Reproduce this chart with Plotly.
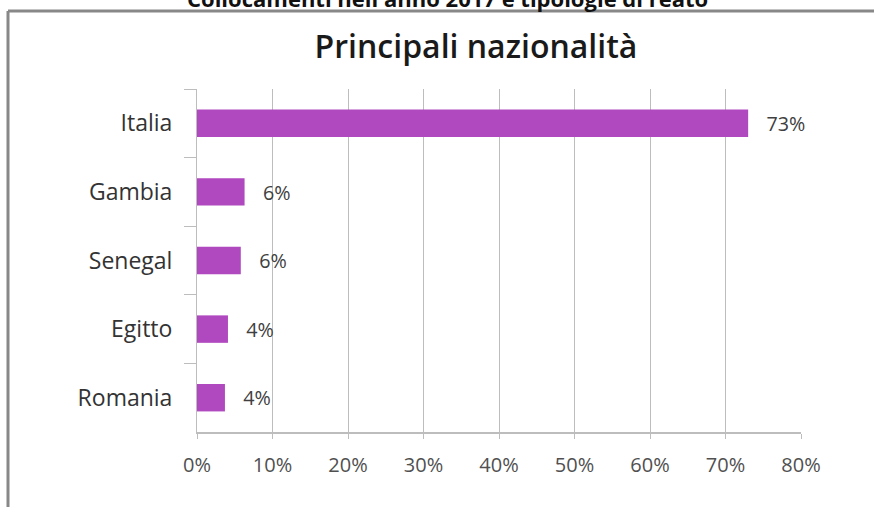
import plotly.graph_objects as go

countries = ["Italia", "Gambia", "Senegal", "Egitto", "Romania"]
shares = [73.0, 6.3, 5.8, 4.1, 3.7]
labels = ["73%", "6%", "6%", "4%", "4%"]
x_ticks = [0, 10, 20, 30, 40, 50, 60, 70, 80]
x_tick_text = ["0%", "10%", "20%", "30%", "40%", "50%", "60%", "70%", "80%"]

W, H = 874, 507
L, R, T, B = 197, 73, 89, 75
pw, ph = W - L - R, H - T - B

def px(x):
    return (x - L) / pw

def py(y):
    return (H - B - y) / ph

FONT = "Open Sans"

fig = go.Figure()
fig.add_trace(go.Bar(
    x=shares, y=countries, orientation="h",
    marker=dict(color="#B048BF", line=dict(width=0)),
    text=labels, texttemplate="   %{text}", textposition="outside", cliponaxis=False,
    textfont=dict(family=FONT, size=23, color="#404040"),
    hoverinfo="skip",
))

fig.update_layout(
    width=W, height=H,
    margin=dict(l=L, r=R, t=T, b=B),
    paper_bgcolor="white", plot_bgcolor="white",
    bargap=0.6,
    showlegend=False,
    title=dict(text="Principali nazionalità", x=476 / W, xanchor="center",
               y=1 - 47 / H, yanchor="middle", yref="container",
               font=dict(family=FONT, size=32, color="#1a1a1a", weight=600)),
    xaxis=dict(range=[0, 80], tickvals=x_ticks, ticktext=x_tick_text,
               showgrid=True, gridcolor="#BDBDBD", gridwidth=1,
               showline=True, linecolor="#BDBDBD", linewidth=2,
               ticks="outside", ticklen=5, tickcolor="#BDBDBD",
               ticklabelstandoff=9,
               tickfont=dict(family=FONT, size=20, color="#505050"),
               zeroline=False, fixedrange=True),
    yaxis=dict(type="category", autorange="reversed",
               showgrid=False, showline=True, linecolor="#BDBDBD", linewidth=1,
               ticks="outside", tickson="boundaries", ticklen=12, tickcolor="#BDBDBD",
               ticklabelstandoff=19,
               tickfont=dict(family=FONT, size=23, color="#333333"),
               fixedrange=True),
)

# outer chart frame (gray border)
fig.add_shape(type="line", xref="paper", yref="paper",
              x0=px(8), x1=px(W + 5), y0=py(11), y1=py(11),
              line=dict(color="#888888", width=3))
fig.add_shape(type="line", xref="paper", yref="paper",
              x0=px(8), x1=px(8), y0=py(11), y1=py(H + 5),
              line=dict(color="#888888", width=3))

# cut-off heading above the chart
fig.add_annotation(text="<b>Collocamenti nell'anno 2017 e tipologie di reato</b>",
                   xref="paper", yref="paper", x=px(447), y=py(7),
                   xanchor="center", yanchor="bottom", yshift=-8, showarrow=False,
                   font=dict(family=FONT, size=22, color="#111111"))

fig.write_html("out.html", config={"displayModeBar": False},
               post_script="document.body.style.margin='0';")
